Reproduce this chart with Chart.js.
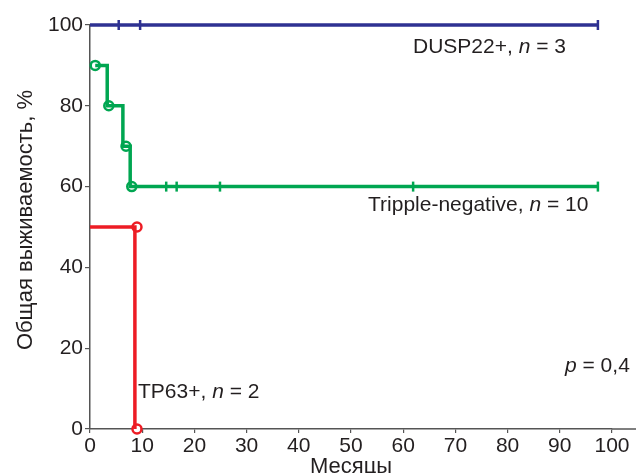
<!DOCTYPE html>
<html>
<head>
<meta charset="utf-8">
<script src="https://cdn.jsdelivr.net/npm/chart.js@4"></script>
<style>
  html, body { margin: 0; padding: 0; background: #fff; }
  #wrap { width: 636px; height: 473px; }
</style>
</head>
<body>
<div id="wrap"><canvas id="km"></canvas></div>
<script>
// x axis (months) and y axis (survival, %)
const xTicks = [0, 10, 20, 30, 40, 50, 60, 70, 80, 90, 100]
const yTicks = [0, 20, 40, 60, 80, 100]

// DUSP22+
const duspTime = [0, 97.3]
const duspSurv = [100, 100]
const duspCensor = [5.5, 9.6, 97.3]

// Tripple-negative
const tnTime = [1, 3.3, 6.3, 7.7, 97.3]
const tnSurv = [90, 80, 70, 60, 60]
const tnEventTime = [1, 3.6, 6.9, 8.0]
const tnEventSurv = [90, 80, 70, 60]
const tnCensor = [14.6, 16.6, 24.9, 61.9, 97.3]
const tnCensorSurv = 60

// TP63+
const tpTime = [0, 8.6]
const tpSurv = [50, 0]
const tpEventTime = [9, 9]
const tpEventSurv = [50, 0]

const BLUE = '#2e3192', GREEN = '#00a651', RED = '#ed1c24'
const FONT = '"Liberation Sans", Arial, sans-serif'

const pts = (xs, ys) => xs.map((x, i) => ({ x: x, y: Array.isArray(ys) ? ys[i] : ys }))

// horizontal first, then the drop
function stepLine(xs, ys, color) {
    return { data: pts(xs, ys), showLine: true, stepped: 'before', borderColor: color,
             borderWidth: 3.5, pointRadius: 0, clip: false }
}
function circles(xs, ys, color) {
    return { data: pts(xs, ys), showLine: false, pointStyle: 'circle', pointRadius: 4.5,
             pointBorderWidth: 2.5, pointBorderColor: color, pointBackgroundColor: '#fff', clip: false }
}
function censors(xs, y, color) {
    return { data: pts(xs, y), showLine: false, pointStyle: 'line', rotation: 90, pointRadius: 5,
             pointBorderWidth: 2.5, pointBorderColor: color, clip: false }
}

const labels = [
    { x: 413, y: 53, parts: [['DUSP22+, '], ['n', 1], [' = 3']] },
    { x: 368, y: 211, parts: [['Tripple-negative, '], ['n', 1], [' = 10']] },
    { x: 138, y: 398, parts: [['TP63+, '], ['n', 1], [' = 2']] },
    { x: 565, y: 372, parts: [['p', 1], [' = 0,4']] },
]

const textPlugin = {
    id: 'texts',
    afterDraw(chart) {
        const c = chart.ctx, a = chart.chartArea
        c.save()
        c.fillStyle = '#231f20'
        c.textBaseline = 'alphabetic'
        labels.forEach(l => {
            let x = l.x
            l.parts.forEach(p => {
                c.font = (p[1] ? 'italic ' : '') + '21px ' + FONT
                c.fillText(p[0], x, l.y)
                x += c.measureText(p[0]).width
            })
        })
        c.font = '22px ' + FONT
        c.textAlign = 'center'
        c.fillText('Месяцы', (a.left + a.right) / 2, 473)
        c.translate(32, 220)
        c.rotate(-Math.PI / 2)
        c.fillText('Общая выживаемость, %', 0, 0)
        c.restore()
        // x axis line runs on to the right edge
        c.save()
        c.strokeStyle = '#555'
        c.lineWidth = 1.5
        c.beginPath()
        c.moveTo(a.right, a.bottom)
        c.lineTo(chart.width, a.bottom)
        c.stroke()
        c.restore()
    }
}

new Chart(document.getElementById('km'), {
    type: 'scatter',
    data: {
        datasets: [
            stepLine(duspTime, duspSurv, BLUE),
            censors(duspCensor, 100, BLUE),
            stepLine(tnTime, tnSurv, GREEN),
            censors(tnCensor, tnCensorSurv, GREEN),
            circles(tnEventTime, tnEventSurv, GREEN),
            stepLine(tpTime, tpSurv, RED),
            circles(tpEventTime, tpEventSurv, RED),
        ]
    },
    options: {
        responsive: true,
        maintainAspectRatio: false,
        animation: false,
        layout: { padding: { top: 25, right: 24, left: 0, bottom: 0 } },
        plugins: { legend: { display: false }, tooltip: { enabled: false } },
        scales: {
            x: {
                type: 'linear', min: 0, max: 100,
                afterBuildTicks: s => { s.ticks = xTicks.map(v => ({ value: v })) },
                afterFit: s => { s.height = 44 },
                border: { color: '#555', width: 1.5 },
                grid: { drawOnChartArea: false, tickLength: 4, color: '#555', lineWidth: 1.2 },
                ticks: { color: '#231f20', font: { family: FONT, size: 21 }, padding: 1, maxRotation: 0 }
            },
            y: {
                type: 'linear', min: 0, max: 100,
                afterBuildTicks: s => { s.ticks = yTicks.map(v => ({ value: v })) },
                afterFit: s => { s.width = 90 },
                border: { color: '#555', width: 1.5 },
                grid: { drawOnChartArea: false, tickLength: 5, color: '#555', lineWidth: 1.2 },
                ticks: { color: '#231f20', font: { family: FONT, size: 21 }, padding: 2 }
            }
        }
    },
    plugins: [textPlugin]
})
</script>
</body>
</html>
